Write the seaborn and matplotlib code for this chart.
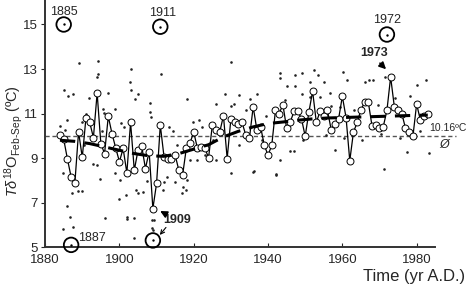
import numpy as np
import matplotlib
matplotlib.use('Agg')
import matplotlib.pyplot as plt
import seaborn as sns

# annual values (1884-1983)
years = list(range(1884, 1984))
values = [10.03, 9.85, 8.96, 8.15, 7.86, 10.18, 9.03, 10.82, 10.60, 9.92,
          11.92, 9.65, 9.20, 10.87, 10.10,
          9.45, 8.84, 9.43, 8.33, 10.60, 8.45, 9.35, 9.53, 8.53, 9.29,
          6.73, 7.86, 10.48, 9.06, 8.94, 8.94, 9.13, 8.45, 8.23, 9.43,
          9.68, 10.17, 9.43, 9.50, 9.43, 9.02, 10.47, 10.25, 10.17, 10.90,
          8.98, 10.75, 10.60, 10.55,
          10.60, 10.04, 9.90, 11.30, 10.27, 10.40, 9.57, 9.13, 9.57, 11.14,
          11.00, 11.40, 10.34, 10.63, 11.10, 11.10, 10.77, 9.98, 11.07, 12.00,
          10.60, 11.10, 10.90, 11.14, 10.27, 10.55, 10.77, 11.77, 10.82, 8.88,
          10.17, 10.60, 11.17, 11.50, 11.50, 10.43, 10.47, 10.34, 10.40, 11.14,
          12.64, 11.30, 11.14, 11.00, 10.34, 10.17, 9.98, 11.43, 10.70, 10.90,
          11.00]

# smooth trend (thick dashed)
trend_years = [1884, 1888, 1892, 1896, 1900, 1904, 1908, 1912, 1916, 1920,
               1924, 1928, 1932, 1936, 1940, 1944, 1948, 1952, 1956, 1960,
               1964, 1968, 1972, 1976, 1980, 1983]
trend_vals = [9.8, 9.75, 9.65, 9.5, 9.35, 9.2, 9.1, 9.08, 9.2, 9.4,
              9.6, 9.95, 10.2, 10.4, 10.55, 10.62, 10.7, 10.76, 10.8, 10.82,
              10.84, 10.86, 10.88, 10.9, 10.92, 10.93]

# individual samples (small dots)
dot_x = [1889.1, 1894.1, 1894.1, 1894.0, 1885.1, 1886.2, 1887.4, 1891.9, 1897.0, 1903.1,
         1902.9, 1903.1, 1904.2, 1905.1, 1908.3, 1908.3, 1908.5, 1884.0, 1886.0, 1885.4,
         1889.9, 1891.0, 1895.7, 1895.9, 1897.5, 1898.8, 1900.4, 1901.3, 1884.7, 1885.8,
         1886.7, 1887.4, 1884.7, 1887.2, 1888.9, 1889.9, 1893.0, 1893.9, 1894.8, 1896.1,
         1898.8, 1900.0, 1900.2, 1901.8, 1902.0, 1902.1, 1903.8, 1903.9, 1904.5, 1905.1,
         1906.3, 1908.7, 1908.7, 1907.4, 1930.1, 1911.2, 1918.2, 1919.9, 1928.5, 1926.1,
         1930.0, 1930.9, 1932.3, 1934.1, 1935.2, 1937.0, 1943.3, 1943.3, 1945.1, 1947.2,
         1947.3, 1949.2, 1949.2, 1914.5, 1922.2, 1909.2, 1909.0, 1911.8, 1912.0, 1912.9,
         1915.0, 1917.2, 1918.0, 1916.8, 1918.2, 1919.0, 1920.8, 1923.1, 1926.1, 1930.0,
         1932.3, 1935.9, 1942.2, 1946.9, 1952.3, 1953.4, 1955.0, 1951.4, 1960.2, 1961.3,
         1966.2, 1967.1, 1968.3, 1971.6, 1980.1, 1982.4, 1978.2, 1951.4, 1954.1, 1957.0,
         1959.5, 1963.1, 1965.8, 1958.1, 1971.2, 1977.3, 1983.3, 1936.1, 1942.1, 1943.1,
         1946.0, 1949.4, 1955.5, 1960.5, 1965.2, 1970.4, 1975.6, 1980.8, 1938.4, 1925.3,
         1915.6, 1890.4, 1895.2, 1913.3, 1921.4, 1939.5, 1944.6, 1956.8, 1969.5, 1974.3]
dot_y = [13.26, 13.35, 12.76, 12.62, 12.07, 11.77, 11.86, 11.71, 11.92, 13.01,
         12.41, 12.07, 11.67, 11.86, 11.47, 11.07, 10.84, 10.43, 10.73, 10.25,
         10.62, 11.00, 11.22, 11.02, 10.92, 11.22, 10.57, 10.39, 8.33, 6.84,
         6.33, 5.91, 5.81, 7.41, 7.52, 7.52, 8.75, 8.68, 8.08, 6.29,
         8.33, 7.18, 8.00, 7.33, 6.36, 6.24, 6.29, 5.43, 7.56, 7.41,
         7.48, 6.21, 5.84, 7.97, 13.31, 12.76, 11.67, 10.62, 11.89, 11.44,
         11.32, 11.41, 11.82, 11.14, 11.67, 11.89, 12.82, 12.61, 12.22, 12.22,
         12.71, 12.82, 11.89, 10.22, 10.40, 6.21, 5.79, 7.56, 7.93, 8.15,
         7.93, 7.70, 7.56, 7.41, 8.00, 8.93, 8.93, 9.13, 8.90, 8.33,
         9.57, 8.38, 8.27, 9.32, 12.94, 12.71, 12.41, 12.41, 12.86, 12.49,
         12.41, 12.49, 12.52, 12.64, 12.26, 12.49, 11.77, 11.74, 11.74, 11.32,
         11.29, 11.14, 11.59, 9.35, 8.53, 9.27, 9.23, 8.40, 8.23, 8.93,
         9.32, 9.83, 10.05, 9.90, 9.80, 10.10, 9.90, 10.20, 9.80, 9.80,
         9.60, 9.60, 10.20, 10.40, 10.70, 10.90, 11.60, 11.90, 11.40, 11.70]

# flagged outliers
out_years = [1885, 1887, 1909, 1911, 1972]
out_vals = [15.0, 5.1, 5.3, 14.9, 14.55]
mean_line = 10.0

sns.set_style('ticks')
plt.rcParams['font.family'] = ['Liberation Sans', 'DejaVu Sans']
plt.rcParams['mathtext.fontset'] = 'custom'
plt.rcParams['mathtext.rm'] = 'Liberation Sans'
plt.rcParams['mathtext.it'] = 'Liberation Sans:italic'

fig = plt.figure(figsize=(4.7, 2.86), dpi=100)
ax = fig.add_axes([0.096, 0.136, 0.83, 0.864])

ax.plot([1880, 1990.5], [mean_line, mean_line], color='#555555', lw=1,
        ls=(0, (3, 2)), clip_on=False, zorder=1)
sns.scatterplot(x=dot_x, y=dot_y, s=3.5, color='#222222', linewidth=0, ax=ax, zorder=2)
sns.lineplot(x=years, y=values, color='k', lw=0.9, marker='o', markersize=5,
             markerfacecolor='white', markeredgecolor='k', markeredgewidth=0.7,
             ax=ax, zorder=3)
ax.plot(trend_years, trend_vals, color='k', lw=2.2, ls=(0, (5, 3)), zorder=4)

sns.scatterplot(x=out_years, y=out_vals, s=110, facecolor='none', edgecolor='k',
                linewidth=1.3, ax=ax, zorder=5, clip_on=False)
sns.scatterplot(x=out_years, y=out_vals, s=3, color='k', linewidth=0, ax=ax,
                zorder=6, clip_on=False)

fs = 9
ax.text(1885, 15.58, '1885', ha='center', va='center', fontsize=fs)
ax.text(1911.6, 15.5, '1911', ha='center', va='center', fontsize=fs)
ax.text(1972, 15.18, '1972', ha='center', va='center', fontsize=fs)
ax.text(1888.8, 5.4, '1887', ha='left', va='center', fontsize=fs)
ax.text(1915.4, 6.2, '1909', ha='center', va='center', fontsize=fs, fontweight='bold')
ax.text(1968.5, 13.7, '1973', ha='center', va='center', fontsize=fs, fontweight='bold')
ax.text(1983.3, 10.35, '10.16ºC', ha='left', va='center', fontsize=7.5, clip_on=False)
ax.text(1987.5, 9.57, 'Ø', ha='center', va='center', fontsize=9, style='italic',
        clip_on=False)

ax.annotate('', xy=(1910.3, 6.68), xytext=(1913.2, 6.42),
            arrowprops=dict(arrowstyle='-|>', color='k', lw=1.2, mutation_scale=10))
ax.annotate('', xy=(1910.4, 5.45), xytext=(1913.0, 5.98),
            arrowprops=dict(arrowstyle='->', color='k', lw=0.8, mutation_scale=7))
ax.annotate('', xy=(1972.3, 12.9), xytext=(1969.6, 13.35),
            arrowprops=dict(arrowstyle='-|>', color='k', lw=1.2, mutation_scale=10))

ax.set_xlim(1880, 1985)
ax.set_ylim(5, 16.1)
ax.set_xticks(range(1880, 1981, 20))
ax.set_yticks(range(5, 16, 2))
ax.tick_params(axis='x', direction='in', length=3, labelsize=9.5, pad=5)
ax.tick_params(axis='y', direction='out', length=3, labelsize=9.5, pad=2)
for s in ['left', 'bottom']:
    ax.spines[s].set_linewidth(1.4)
    ax.spines[s].set_color('#333333')
sns.despine(ax=ax)

ax.set_xlabel('')
ax.set_ylabel(r'$T\delta^{18}\mathrm{O}_{\mathrm{Feb\text{-}Sep}}$ (ºC)', fontsize=10.5)
ax.yaxis.set_label_coords(-0.052, 0.43)
fig.text(0.99, 0.008, 'Time (yr A.D.)', ha='right', va='bottom', fontsize=12)

fig.savefig('out.png', dpi=100)
